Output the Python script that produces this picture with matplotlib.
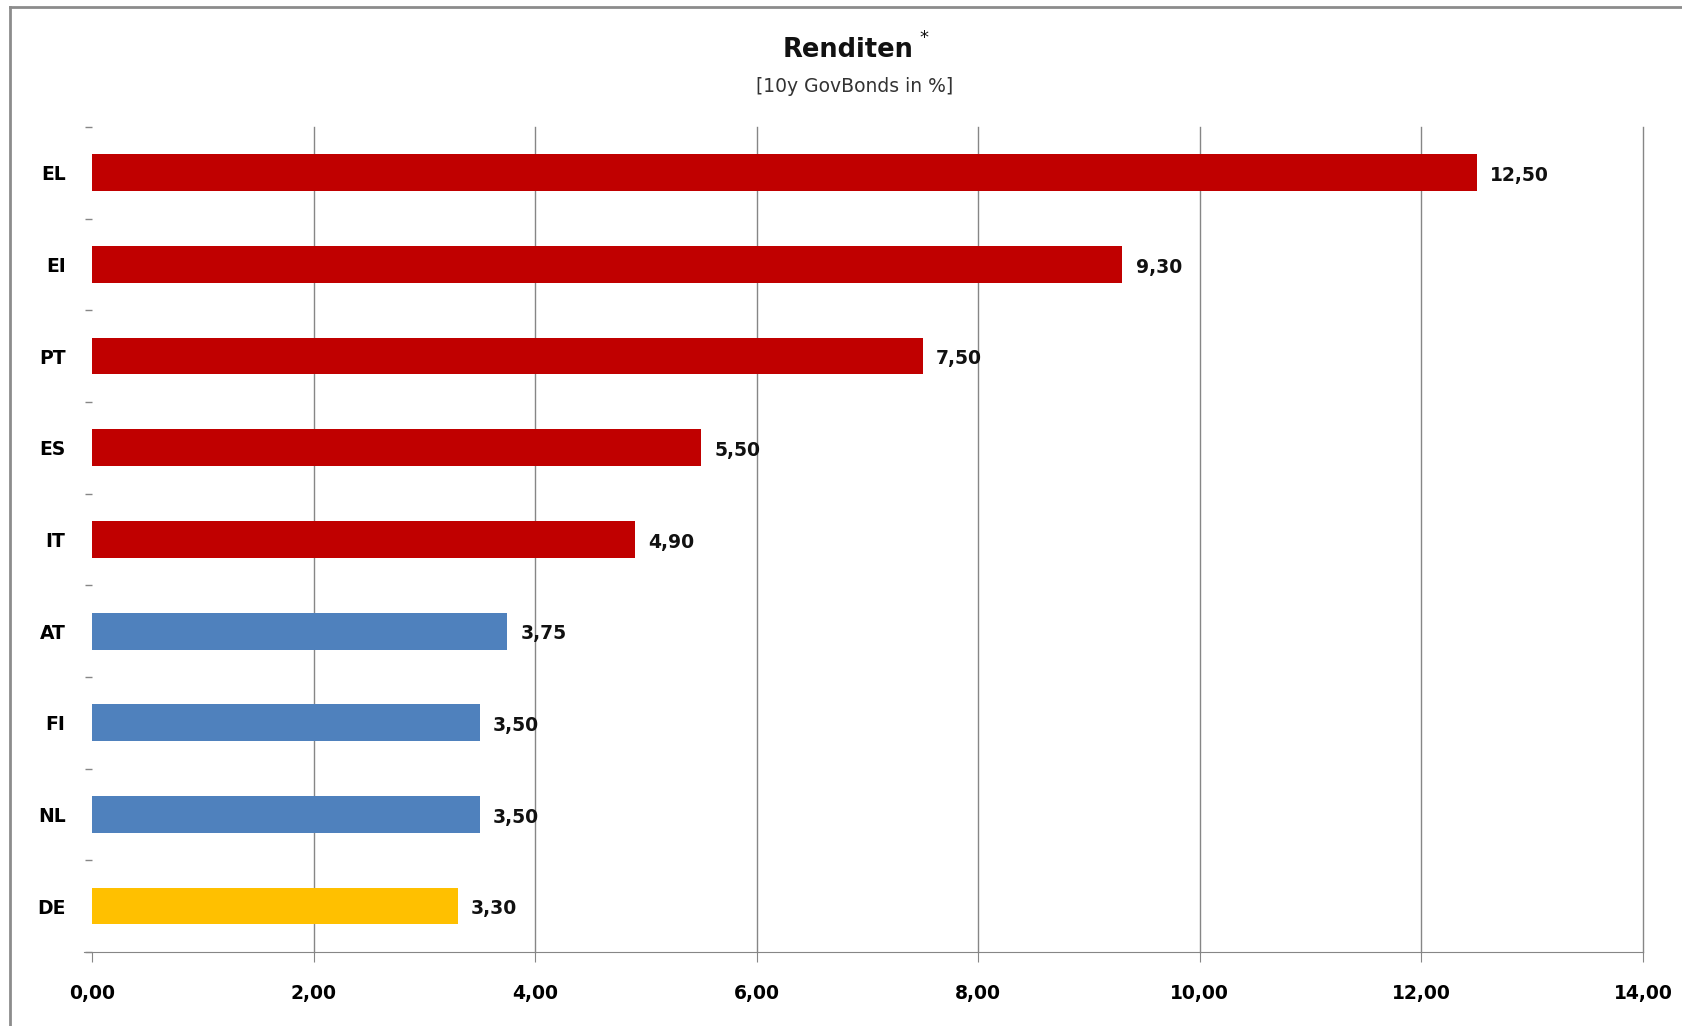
import numpy as np
import matplotlib.pyplot as plt
from matplotlib.lines import Line2D

# Daten: Renditen 10-jaehriger Staatsanleihen
laender = ['EL', 'EI', 'PT', 'ES', 'IT', 'AT', 'FI', 'NL', 'DE']
renditen = [12.50, 9.30, 7.50, 5.50, 4.90, 3.75, 3.50, 3.50, 3.30]
farben = ['#C00000', '#C00000', '#C00000', '#C00000', '#C00000',
          '#4F81BD', '#4F81BD', '#4F81BD', '#FFC000']
x_ticks = [0, 2, 4, 6, 8, 10, 12, 14]

plt.rcParams['font.family'] = ['DejaVu Sans']


def komma(v):
    return ('%.2f' % v).replace('.', ',')


fig = plt.figure(figsize=(16.83, 10.26), dpi=100)
ax = fig.add_axes([92 / 1683, 1 - 952 / 1026, (1643 - 92) / 1683, (952 - 127) / 1026])

y = np.arange(len(laender))
ax.barh(y, renditen, height=0.4, color=farben, zorder=3)

for yi, v in zip(y, renditen):
    ax.text(v + 0.12, yi + 0.03, komma(v), va='center', ha='left', fontsize=13.5,
            fontweight='bold', color='#111111', zorder=4)

ax.set_xlim(0, 14)
ax.set_ylim(len(laender) - 0.5, -0.5)
ax.set_xticks(x_ticks)
ax.set_xticklabels([komma(t) for t in x_ticks], fontsize=13.5, fontweight='bold')
ax.set_yticks(y)
ax.set_yticklabels(laender, fontsize=13.5, fontweight='bold')
ax.set_yticks(np.arange(len(laender) + 1) - 0.5, minor=True)

ax.tick_params(axis='x', length=7, color='#868686', pad=16)
ax.tick_params(axis='y', which='major', length=0, pad=19)
ax.tick_params(axis='y', which='minor', length=5, color='#868686', width=1)

# Gitterlinien ohne die Linie bei 0
for t in x_ticks[1:]:
    ax.axvline(t, color='#868686', linewidth=1, zorder=0, clip_on=False)
for s in ['top', 'right', 'left']:
    ax.spines[s].set_visible(False)
ax.spines['bottom'].set_color('#868686')
ax.spines['bottom'].set_bounds(-0.07, 14)

# Titel
fig.text(848 / 1683, 1 - 50 / 1026, 'Renditen', ha='center', va='center',
         fontsize=18.5, fontweight='bold', color='#111111')
fig.text(919 / 1683, 1 - 38 / 1026, '*', ha='left', va='center',
         fontsize=13, color='#111111')
fig.text(855 / 1683, 1 - 87 / 1026, '[10y GovBonds in %]', ha='center', va='center',
         fontsize=13.5, color='#333333')

# Rahmen
fig.add_artist(Line2D([10 / 1683, 10 / 1683], [0, 1 - 7 / 1026],
                      transform=fig.transFigure, color='#8c8c8c', linewidth=2))
fig.add_artist(Line2D([10 / 1683, 1], [1 - 7 / 1026, 1 - 7 / 1026],
                      transform=fig.transFigure, color='#8c8c8c', linewidth=2))

fig.savefig('out.png', dpi=100)
